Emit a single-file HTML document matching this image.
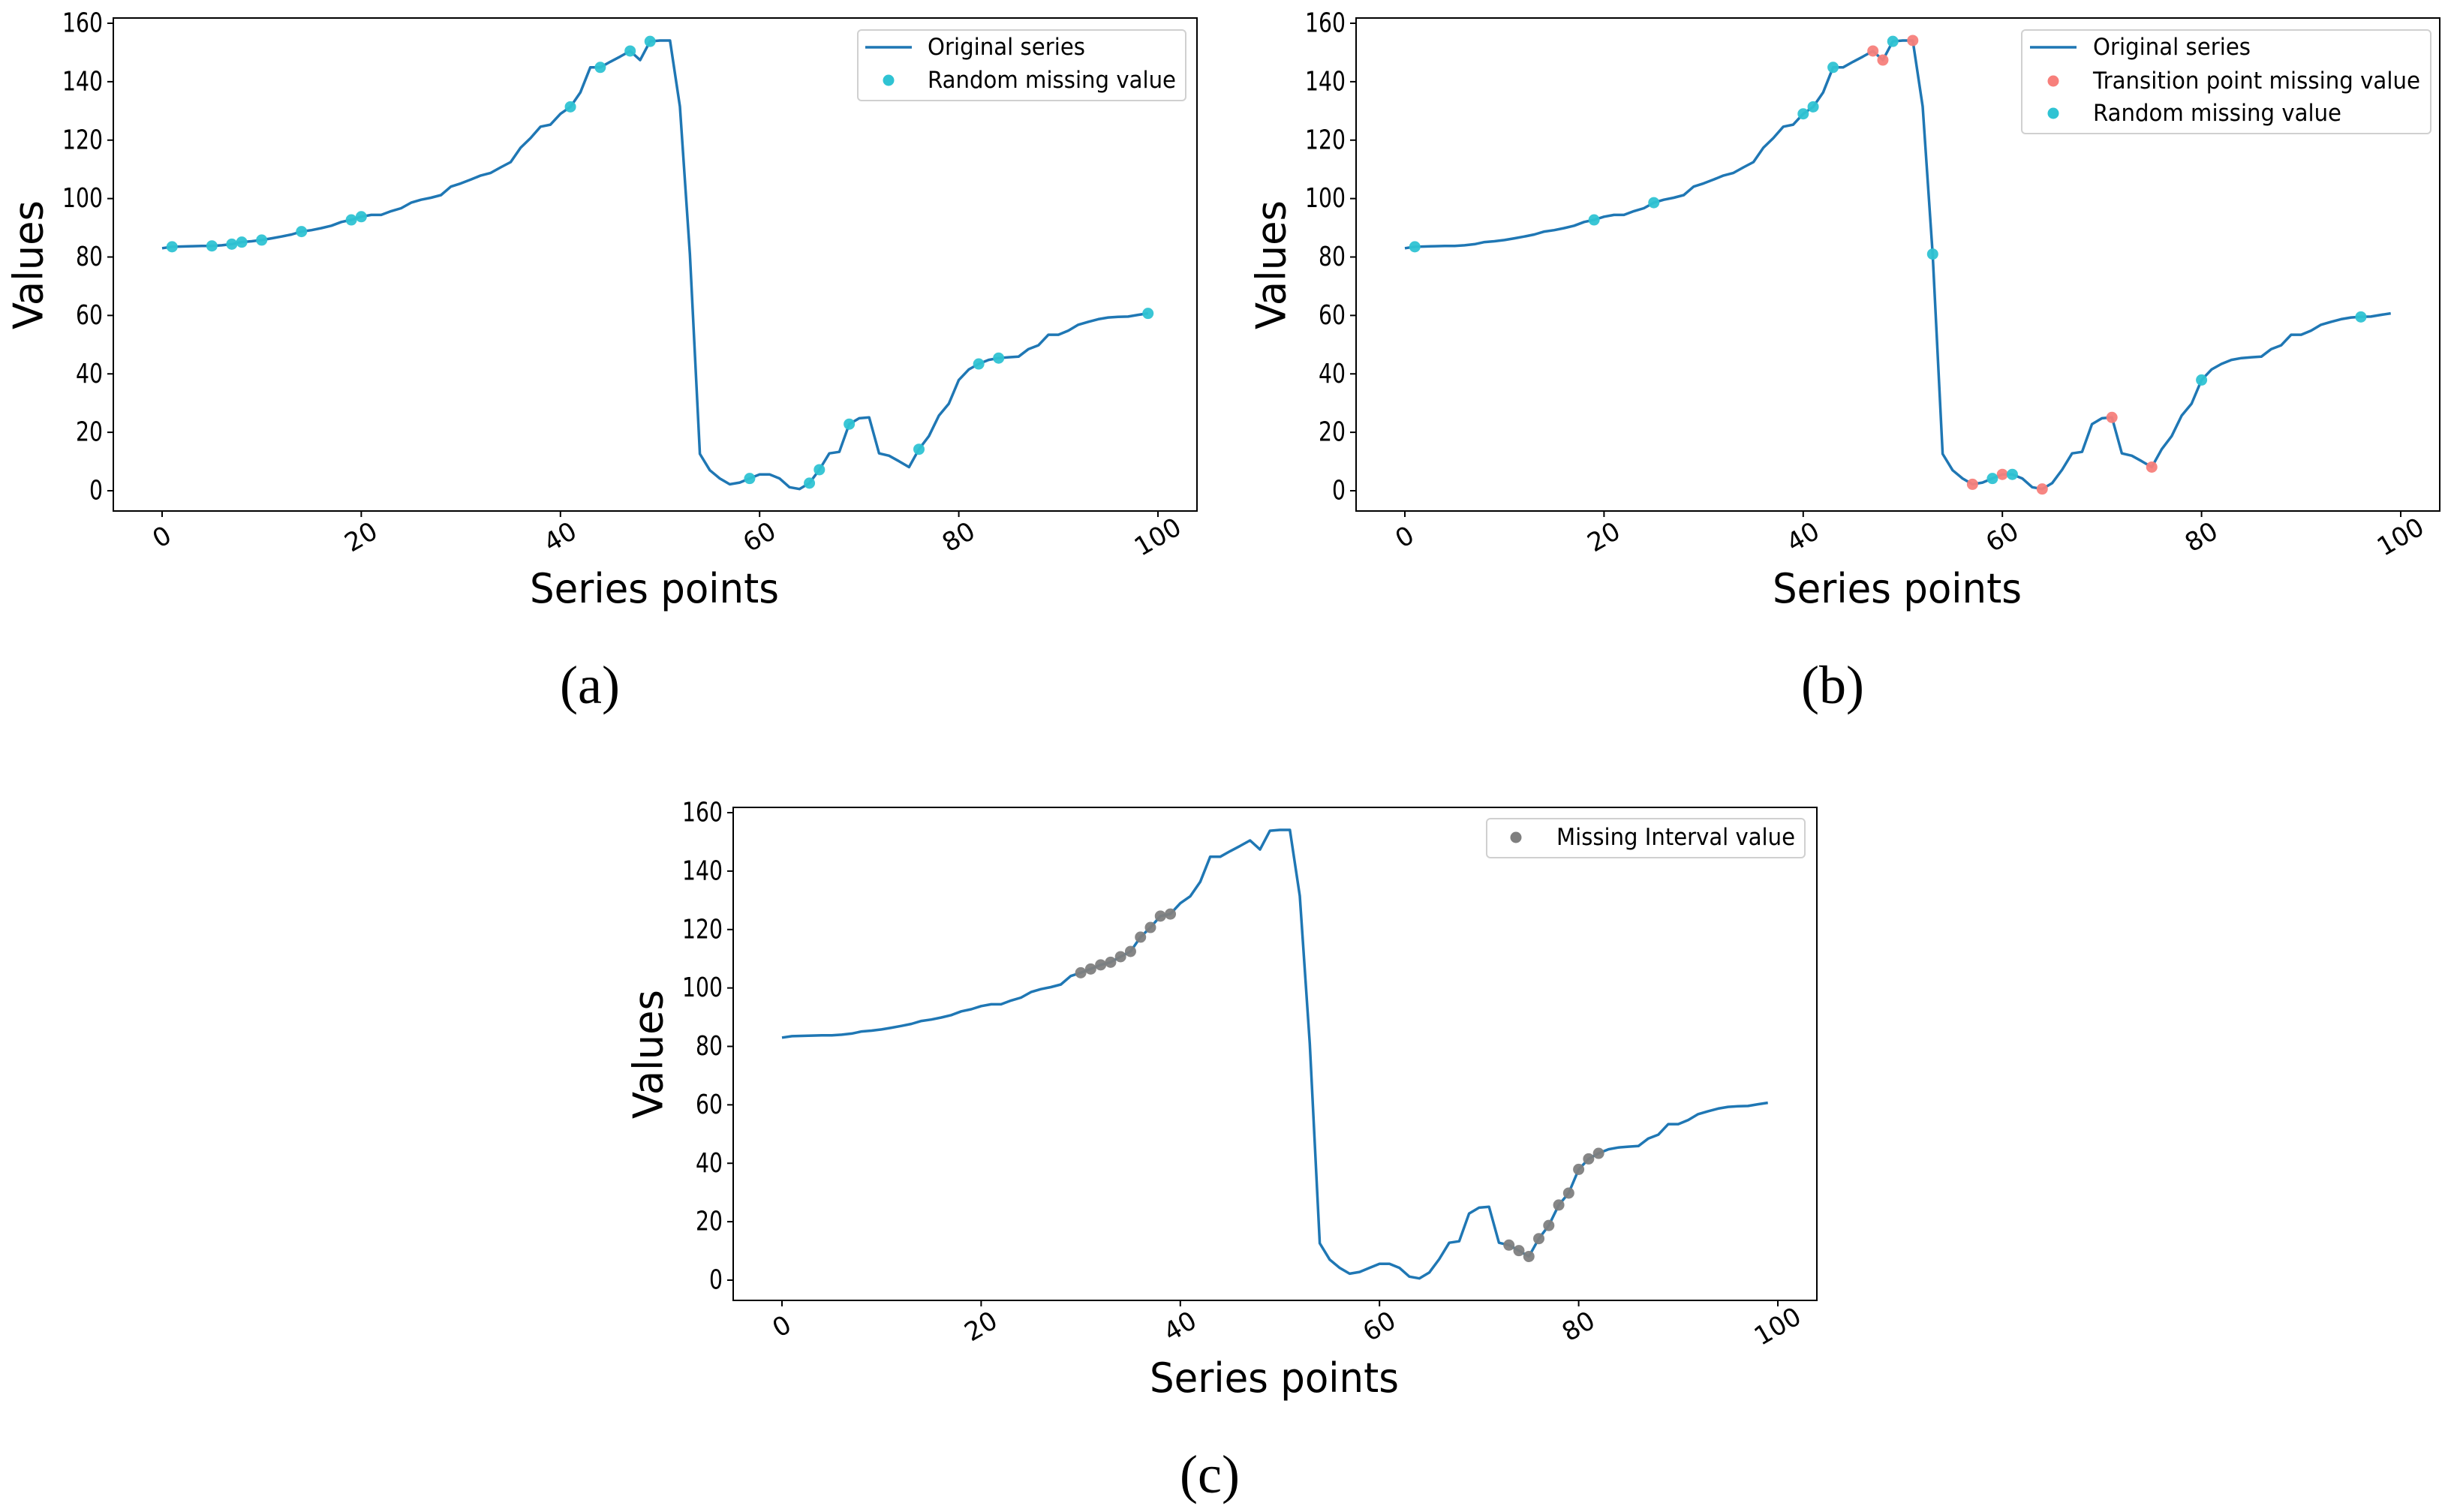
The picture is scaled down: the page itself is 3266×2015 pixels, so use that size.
<!DOCTYPE html>
<html><head><meta charset="utf-8"><style>
html,body{margin:0;padding:0;background:#fff;}
svg{display:block;}
text{font-family:"DejaVu Sans","Liberation Sans",sans-serif;fill:#000;}
.cap{font-family:"Liberation Serif",serif;}
</style></head><body>
<svg id="fig" width="3266" height="2015" viewBox="0 0 3266 2015" xmlns="http://www.w3.org/2000/svg"></svg>
<script>
const seriesValues = [
83.0,83.5,83.6,83.7,83.8,83.8,84.0,84.4,85.1,85.4,
85.8,86.4,87.0,87.7,88.7,89.2,89.9,90.7,92.0,92.7,
93.8,94.4,94.4,95.7,96.7,98.6,99.6,100.3,101.2,104.1,
105.2,106.5,107.9,108.8,110.7,112.5,117.4,120.7,124.6,125.3,
129.0,131.4,136.3,144.9,144.9,146.8,148.6,150.5,147.4,153.8,
154.1,154.1,131.5,81.0,12.6,7.0,4.2,2.2,2.8,4.2,
5.6,5.6,4.2,1.2,0.6,2.6,7.2,12.8,13.3,22.8,
24.8,25.1,12.8,12.0,10.1,8.1,14.2,18.7,25.7,29.8,
37.9,41.5,43.4,44.8,45.4,45.7,45.9,48.5,49.8,53.4,
53.4,54.8,56.8,57.8,58.7,59.3,59.5,59.6,60.2,60.7];
const randomMissingA = [1,5,7,8,10,14,19,20,41,44,47,49,59,65,66,69,76,82,84,99];
const transitionMissingB = [47,48,51,57,60,64,71,75];
const randomMissingB = [1,19,25,40,41,43,49,53,59,61,80,96];
const intervalMissingC = [30,31,32,33,34,35,36,37,38,39,73,74,75,76,77,78,79,80,81,82];
const xTicks = [0,20,40,60,80,100];
const yTicks = [0,20,40,60,80,100,120,140,160];

const NS = "http://www.w3.org/2000/svg";
const svg = document.getElementById('fig');
function mk(tag, attrs, parent){
  const e = document.createElementNS(NS, tag);
  for (const k in attrs) e.setAttribute(k, attrs[k]);
  (parent||svg).appendChild(e);
  return e;
}
const COL_LINE = '#1f77b4', COL_CYAN = '#2fc3d3', COL_RED = '#f77f7b', COL_GRAY = '#7f7f7f';

function panel(dx, dy, key, markerSets, legendItems, legendBox, caption){
  const g = mk('g', {transform:`translate(${dx},${dy})`});
  
  
  const xS = v => 216 + (1543-216) * v / 100;
  const yS = v => 654 - (654-31) * v / 160;
  const box = mk('rect', {x:151, y:24, width:1444, height:657, fill:'none', stroke:'#000', 'stroke-width':2}, g);
  
  
  xTicks.forEach(t => {
    const x = xS(t);
    const tk = mk('line', {x1:x, x2:x, y1:681, y2:689, stroke:'#000', 'stroke-width':2}, g);
    
    
    const tl = mk('text', {x:x, y:716, 'font-size':34, 'text-anchor':'middle', 'dominant-baseline':'central', transform:`rotate(-30 ${x} 716)`}, g);
    tl.textContent = t;
    
    
  });
  yTicks.forEach(t => {
    const y = yS(t);
    const tk = mk('line', {x1:143, x2:151, y1:y, y2:y, stroke:'#000', 'stroke-width':2}, g);
    
    
    const s = String(t);
    const tl = mk('text', {x:137, y:y, 'font-size':36, 'text-anchor':'end', 'dominant-baseline':'central', textLength:s.length*18, lengthAdjust:'spacingAndGlyphs'}, g);
    tl.textContent = s;
    
    
  });
  const yt = mk('text', {x:0, y:0, 'font-size':54, 'text-anchor':'middle', 'dominant-baseline':'central', transform:'translate(38 353) rotate(-90)', textLength:172, lengthAdjust:'spacingAndGlyphs'}, g);
  yt.textContent = 'Values';
  
  
  const xt = mk('text', {x:872, y:803, 'font-size':54, 'text-anchor':'middle', textLength:332, lengthAdjust:'spacingAndGlyphs'}, g);
  xt.textContent = 'Series points';
  
  
  const pts = seriesValues.map((v,i) => xS(i).toFixed(1) + ',' + yS(v).toFixed(1)).join(' ');
  const pl = mk('polyline', {points:pts, fill:'none', stroke:COL_LINE, 'stroke-width':3.5, 'stroke-linejoin':'round'}, g);
  
  
  markerSets.forEach(ms => {
    ms.idx.forEach(i => {
      const c = mk('circle', {cx:xS(i), cy:yS(seriesValues[i]), r:7.5, fill:ms.color, 'fill-opacity':0.95}, g);
      
      
    });
  });
  const lg = mk('g', {}, g);
  
  
  const lb = legendBox;
  mk('rect', {x:lb.x, y:lb.y, width:lb.w, height:lb.h, rx:5, fill:'#fff', stroke:'#d0d0d0', 'stroke-width':2}, lg);
  legendItems.forEach((it, k) => {
    const cy = lb.rowY[k];
    if (it.type === 'line') {
      const l = mk('line', {x1:lb.sx1, x2:lb.sx2, y1:cy, y2:cy, stroke:COL_LINE, 'stroke-width':3.5}, lg);
      
      
    } else {
      const c = mk('circle', {cx:(lb.sx1+lb.sx2)/2, cy:cy, r:7.5, fill:it.color}, lg);
      
      
    }
    const t = mk('text', {x:lb.tx, y:cy, 'font-size':31, 'dominant-baseline':'central', textLength:it.tw, lengthAdjust:'spacingAndGlyphs'}, lg);
    t.textContent = it.label;
    
    
  });
  const cp = mk('text', {x:786, y:913, 'font-size':72, 'text-anchor':'middle', 'dominant-baseline':'central', class:'cap'}, g);
  cp.textContent = caption;
  
  
}

panel(0, 0, 'a',
  [{idx:randomMissingA, color:COL_CYAN, name:'random-missing-point'}],
  [{type:'line', label:'Original series', tw:210},
   {type:'dot', color:COL_CYAN, label:'Random missing value', tw:331}],
  {x:1143, y:40, w:437, h:94, rowY:[63,107], sx1:1153, sx2:1215, tx:1236},
  '(a)');

panel(1656, 0, 'b',
  [{idx:transitionMissingB, color:COL_RED, name:'transition-missing-point'},
   {idx:randomMissingB, color:COL_CYAN, name:'random-missing-point'}],
  [{type:'line', label:'Original series', tw:210},
   {type:'dot', color:COL_RED, label:'Transition point missing value', tw:436},
   {type:'dot', color:COL_CYAN, label:'Random missing value', tw:331}],
  {x:2694-1656, y:40, w:545, h:138, rowY:[63,108,151], sx1:2705-1656, sx2:2767-1656, tx:2789-1656},
  '(b)');

panel(826, 1052, 'c',
  [{idx:intervalMissingC, color:COL_GRAY, name:'interval-missing-point'}],
  [{type:'dot', color:COL_GRAY, label:'Missing Interval value', tw:318}],
  {x:1981-826, y:1091-1052, w:424, h:52, rowY:[1116-1052], sx1:2004-826, sx2:2036-826, tx:2074-826},
  '(c)');
</script>
</body></html>
